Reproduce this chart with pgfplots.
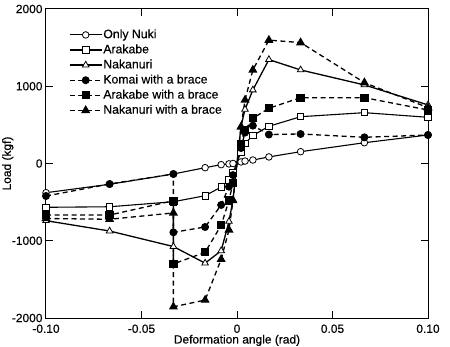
\documentclass[border=0pt]{standalone}
\usepackage{fontspec}
\setmainfont{Liberation Sans}[FakeBold=0.4]
\usepackage{pgfplots}
\pgfplotsset{compat=1.18}
\begin{document}
\begin{tikzpicture}
\begin{axis}[name=ax, at={(0,0)}, anchor=south west, scale only axis,
  width=382bp, height=309bp,
  xmin=-0.1, xmax=0.1, ymin=-2000, ymax=2000,
  scaled ticks=false,
  xtick={-0.1,-0.05,0,0.05,0.1}, xticklabels={-0.10,-0.05,0,0.05,0.10},
  ytick={-2000,-1000,0,1000,2000}, yticklabels={-2000,-1000,0,1000,2000},
  tick align=inside, major tick length=7bp,
  tick style={line width=1bp, black},
  axis line style={line width=1bp},
  ticklabel style={font=\fontsize{12}{14}\selectfont},
  xticklabel style={yshift=-3bp},
  xlabel={Deformation angle (rad)}, ylabel={Load (kgf)},
  label style={font=\fontsize{12}{14}\selectfont},
  xlabel style={at={(axis description cs:0.5,-0.0725)}, anchor=center},
  ylabel style={at={(axis description cs:-0.1,0.5)}, anchor=center},
  clip=false,
  legend style={at={(axis description cs:0.052,0.945)}, anchor=north west,
    draw=none, fill=none, font=\fontsize{12.3}{14}\selectfont, row sep=1.6bp,
    nodes={inner sep=1bp, text height=9bp, text depth=2.5bp}},
  legend cell align=left,
  legend image code/.code={\draw[mark repeat=2, mark phase=2] plot coordinates {(0bp,0bp) (16bp,0bp) (32bp,0bp)};},
]
% Only Nuki
\addplot[black, line width=1.1bp, mark=*, mark size=3.3bp, mark options={fill=white, solid, line width=0.8bp}] coordinates {
(-0.1,-378) (-0.0667,-269) (-0.0333,-136) (-0.0167,-54) (-0.0083,-15) (-0.0042,-5) (-0.0021,0)
(0.0021,20) (0.0042,32) (0.0083,45) (0.0167,85) (0.0333,153) (0.0667,269) (0.1,369)};
\addlegendentry{Only Nuki}
% Arakabe
\addplot[black, line width=1.1bp, mark=square*, mark size=3.2bp, mark options={fill=white, solid, line width=0.8bp}] coordinates {
(-0.1,-567) (-0.0667,-560) (-0.0333,-495) (-0.0167,-417) (-0.0083,-305) (-0.0042,-210) (-0.0021,-120)
(0.0021,150) (0.0042,260) (0.0083,362) (0.0167,482) (0.0333,606) (0.0667,658) (0.1,598)};
\addlegendentry{Arakabe}
% Nakanuri
\addplot[black, line width=1.3bp, mark=triangle*, mark size=3.8bp, mark options={fill=white, solid, line width=0.8bp}] coordinates {
(-0.1,-740) (-0.0667,-874) (-0.0333,-1075) (-0.0167,-1290) (-0.0083,-1130) (-0.0042,-750) (-0.0021,-470)
(0.0021,480) (0.0042,700) (0.0083,952) (0.0167,1345) (0.0333,1211) (0.0667,1017) (0.1,758)};
\addlegendentry{Nakanuri}
% Komai with a brace
\addplot[black, line width=1.3bp, dash pattern=on 5bp off 3.5bp, mark=*, mark size=3.3bp, mark options={fill=black, solid}] coordinates {
(-0.1,-421) (-0.0667,-265) (-0.0333,-136) (-0.0333,-891) (-0.0167,-822) (-0.0083,-537) (-0.0042,-300) (-0.0021,-150)
(0.0021,200) (0.0042,400) (0.0083,490) (0.0167,375) (0.0333,382) (0.0667,339) (0.1,369)};
\addlegendentry{Komai with a brace}
% Arakabe with a brace
\addplot[black, line width=1.3bp, dash pattern=on 5bp off 3.5bp, mark=square*, mark size=3.5bp, mark options={fill=black, solid}] coordinates {
(-0.1,-667) (-0.0667,-667) (-0.0333,-482) (-0.0333,-1300) (-0.0167,-1150) (-0.0083,-800) (-0.0042,-480) (-0.0021,-250)
(0.0021,250) (0.0042,430) (0.0083,585) (0.0167,715) (0.0333,852) (0.0667,852) (0.1,693)};
\addlegendentry{Arakabe with a brace}
% Nakanuri with a brace
\addplot[black, line width=1.3bp, dash pattern=on 5bp off 3.5bp, mark=triangle*, mark size=4bp, mark options={fill=black, solid}] coordinates {
(-0.1,-712) (-0.0667,-722) (-0.0333,-640) (-0.0333,-1855) (-0.0167,-1768) (-0.0083,-1240) (-0.0042,-860) (-0.0021,-480)
(0.0021,473) (0.0042,822) (0.0083,1211) (0.0167,1597) (0.0333,1565) (0.0667,1047) (0.1,723)};
\addlegendentry{Nakanuri with a brace}
\end{axis}
\pgfresetboundingbox
\path ([xshift=-46bp,yshift=-29bp]ax.south west) rectangle ([xshift=22bp,yshift=9bp]ax.north east);
\end{tikzpicture}
\end{document}
